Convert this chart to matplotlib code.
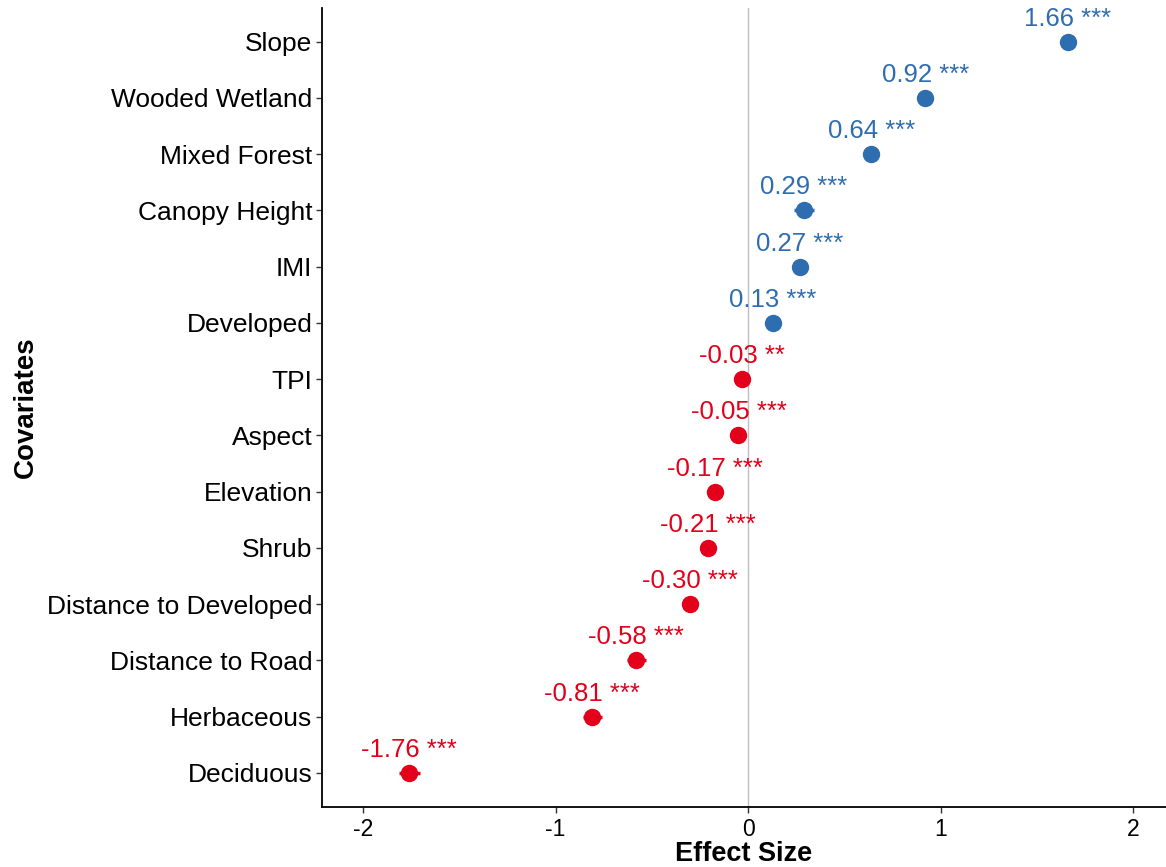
import numpy as np
import matplotlib.pyplot as plt

# covariates from bottom to top
covariates = ["Deciduous", "Herbaceous", "Distance to Road", "Distance to Developed",
              "Shrub", "Elevation", "Aspect", "TPI", "Developed", "IMI",
              "Canopy Height", "Mixed Forest", "Wooded Wetland", "Slope"]
effect = [-1.76, -0.81, -0.58, -0.30, -0.21, -0.17, -0.05, -0.03,
          0.13, 0.27, 0.29, 0.64, 0.92, 1.66]
ci_half = [0.055, 0.05, 0.05, 0.02, 0.02, 0.02, 0.02, 0.02,
           0.02, 0.02, 0.05, 0.02, 0.02, 0.04]
signif = ["***", "***", "***", "***", "***", "***", "***", "**",
          "***", "***", "***", "***", "***", "***"]

BLUE = "#2F6DB1"
RED = "#E2001A"

plt.rcParams["font.family"] = ["Liberation Sans", "DejaVu Sans"]

fig = plt.figure(figsize=(11.66, 8.67), dpi=100)
ax = fig.add_axes([0.2762, 0.0695, 0.7238, 0.9213])

y = np.arange(1, len(covariates) + 1)
ax.axvline(0, color="#BEBEBE", lw=1, zorder=1)

for yi, v, e, s in zip(y, effect, ci_half, signif):
    col = BLUE if v > 0 else RED
    ax.errorbar(v, yi, xerr=e, fmt="o", color=col, ms=11.5, elinewidth=2.5,
                capsize=0, zorder=3)
    ax.text(v, yi + 0.41, f"{v:.2f} {s}", color=col, fontsize=18.5,
            ha="center", va="center", zorder=4)

ax.set_xlim(-2.213, 2.171)
ax.set_ylim(0.4, 14.6)
ax.set_yticks(y)
ax.set_yticklabels(covariates)
ax.set_xticks([-2, -1, 0, 1, 2])
ax.set_xticklabels(["-2", "-1", "0", "1", "2"])
ax.tick_params(axis="y", labelsize=19, length=4, width=1, colors="#333333",
               labelcolor="black", pad=3)
ax.tick_params(axis="x", labelsize=16.5, length=4, width=1, colors="#333333",
               labelcolor="black", pad=4)

for side in ["top", "right"]:
    ax.spines[side].set_visible(False)
for side in ["left", "bottom"]:
    ax.spines[side].set_linewidth(1.3)
    ax.spines[side].set_color("black")

ax.set_xlabel("Effect Size", fontsize=19.5, fontweight="bold", labelpad=0)
ax.set_ylabel("Covariates", fontsize=20, fontweight="bold", labelpad=6)

fig.savefig("out.png", dpi=100)
